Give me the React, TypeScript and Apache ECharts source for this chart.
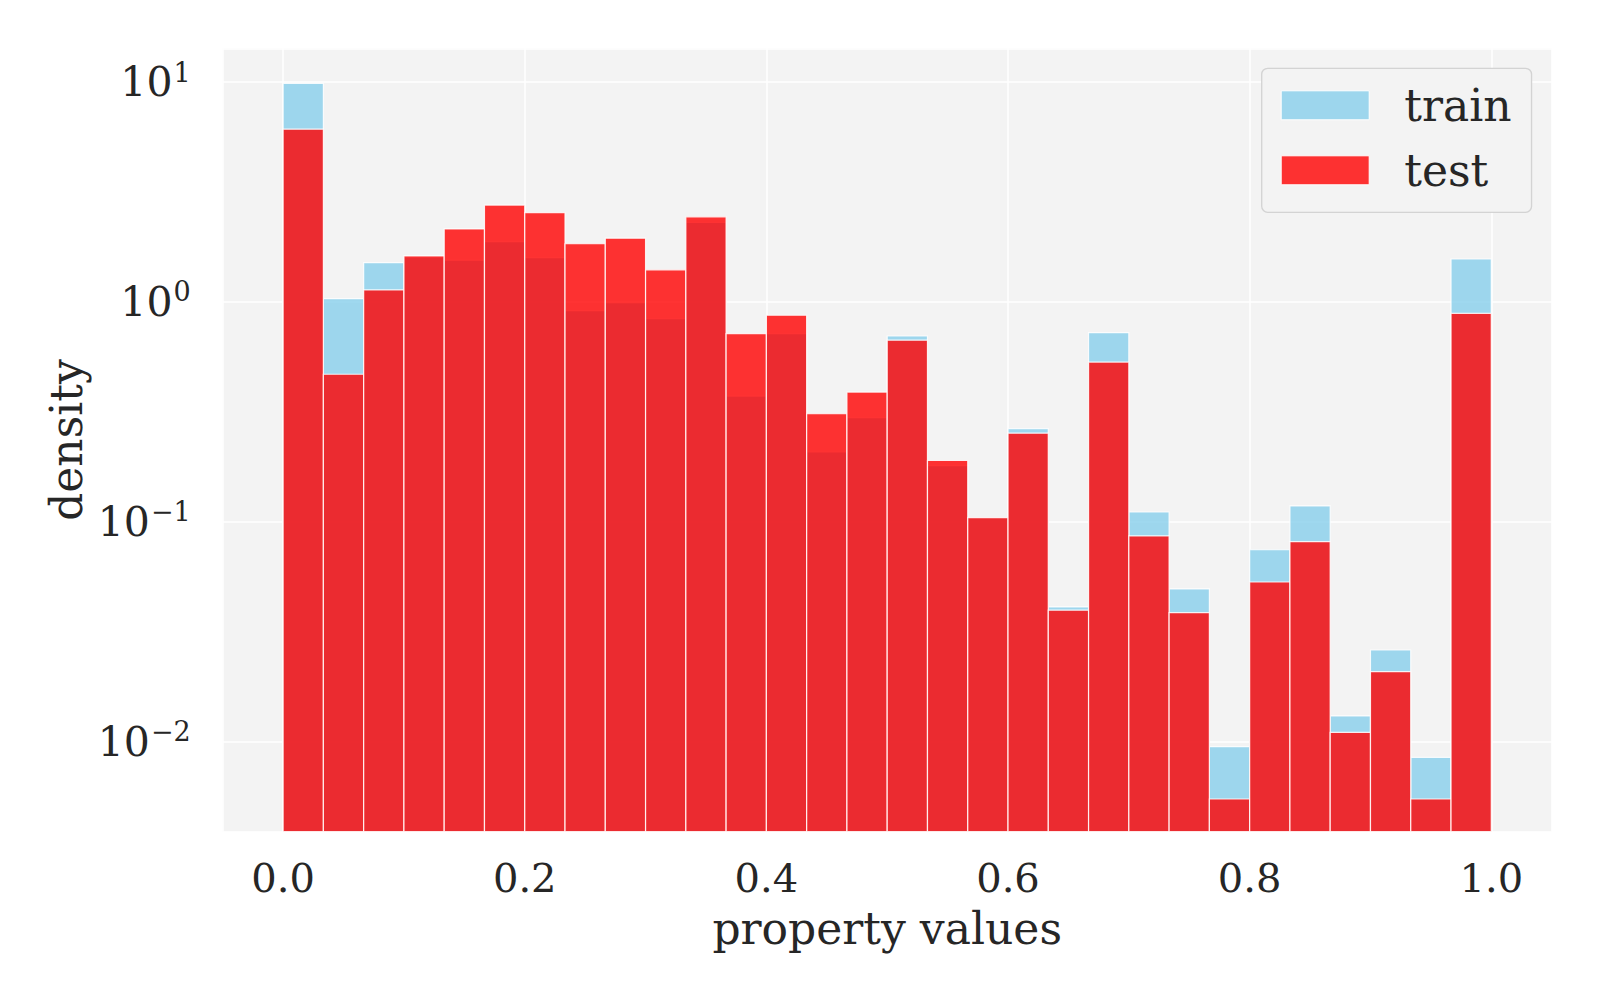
import React, { useEffect, useRef } from "react";
import * as echarts from "echarts";

// Histogram bins: 30 equal-width bins over [0, 1]
const BIN_LOW = 0;
const BIN_HIGH = 1;
const BIN_COUNT = 30;

// Density values (one per bin)
const trainDensity = [
  9.88, 1.035, 1.51, 1.6, 1.55, 1.88, 1.59, 0.913, 0.993, 0.84,
  2.3, 0.373, 0.718, 0.208, 0.298, 0.7, 0.18, 0.1045, 0.2655, 0.041,
  0.725, 0.1108, 0.0495, 0.00948, 0.0746, 0.118, 0.01308, 0.0261, 0.00848, 1.569,
];
const testDensity = [
  6.11, 0.469, 1.134, 1.62, 2.15, 2.76, 2.55, 1.84, 1.95, 1.4,
  2.44, 0.718, 0.87, 0.31, 0.389, 0.67, 0.19, 0.1045, 0.253, 0.0396,
  0.533, 0.0862, 0.0386, 0.00548, 0.0532, 0.0812, 0.01101, 0.0208, 0.00548, 0.888,
];

const seriesNames = ["train", "test"];
const xTickLabels = ["0.0", "0.2", "0.4", "0.6", "0.8", "1.0"];

const X_MIN = -0.05;
const X_MAX = 1.05;
const Y_MIN = 0.00389;
const Y_MAX = 14.26;

const TEXT = "#262626";
const FONT = "'DejaVu Serif', serif";

function toBins(values: number[]) {
  const w = (BIN_HIGH - BIN_LOW) / BIN_COUNT;
  return values.map((v, i) => [BIN_LOW + i * w, BIN_LOW + (i + 1) * w, v]);
}

function makeSeries(name: string, values: number[], color: string) {
  return {
    type: "custom",
    name,
    itemStyle: { color },
    encode: { x: [0, 1], y: 2 },
    data: toBins(values),
    renderItem: (_params: any, api: any) => {
      const x0 = api.value(0);
      const x1 = api.value(1);
      const v = api.value(2);
      const p0 = api.coord([x0, v]);
      const p1 = api.coord([x1, Y_MIN]);
      return {
        type: "rect",
        shape: { x: p0[0], y: p0[1], width: p1[0] - p0[0], height: p1[1] - p0[1] },
        style: { fill: color, stroke: "rgba(255,255,255,0.85)", lineWidth: 1.2 },
      };
    },
  };
}

export default function App() {
  const ref = useRef<HTMLDivElement>(null);
  useEffect(() => {
    document.body.style.margin = "0";
    const chart = echarts.init(ref.current!, undefined, { renderer: "svg" });
    const supMap: Record<string, string> = { "-": "\u2212" };
    chart.setOption({
      animation: false,
      backgroundColor: "#ffffff",
      grid: {
        left: 222.7,
        top: 48.3,
        right: 48.3,
        bottom: 168.3,
        show: true,
        backgroundColor: "#f3f3f3",
        borderWidth: 0,
      },
      xAxis: {
        type: "value",
        min: X_MIN,
        max: X_MAX,
        minInterval: 0.2,
        maxInterval: 0.2,
        axisLine: { show: false },
        axisTick: { show: false },
        splitLine: { show: true, lineStyle: { color: "#ffffff", width: 1.5 } },
        axisLabel: {
          showMinLabel: false,
          showMaxLabel: false,
          margin: 26,
          fontSize: 40,
          fontFamily: FONT,
          color: TEXT,
          formatter: (v: number) => {
            const idx = Math.round(v / 0.2);
            if (Math.abs(v - idx * 0.2) > 1e-6) return "";
            return xTickLabels[idx] ?? "";
          },
        },
      },
      yAxis: {
        type: "log",
        logBase: 10,
        min: Y_MIN,
        max: Y_MAX,
        axisLine: { show: false },
        axisTick: { show: false },
        splitLine: { show: true, lineStyle: { color: "#ffffff", width: 1.5 } },
        axisLabel: {
          showMinLabel: false,
          showMaxLabel: false,
          margin: 32,
          color: TEXT,
          fontFamily: FONT,
          formatter: (v: number) => {
            const l = Math.log10(v);
            const e = Math.round(l);
            if (Math.abs(l - e) > 0.01) return "";
            const s = String(e).split("").map((c) => supMap[c] ?? c).join("");
            return `{b|10}{s|${s}}`;
          },
          rich: {
            b: { fontSize: 41, lineHeight: 41, fontFamily: FONT, color: TEXT, verticalAlign: "bottom" },
            s: {
              fontSize: 27,
              lineHeight: 27,
              fontFamily: FONT,
              color: TEXT,
              verticalAlign: "bottom",
              padding: [0, 0, 17, 1],
            },
          },
        },
      },
      legend: {
        orient: "vertical",
        left: 1261.7,
        top: 68.3,
        data: seriesNames,
        icon: "rect",
        itemWidth: 88,
        itemHeight: 29,
        itemGap: 21,
        padding: [15, 20, 20, 19],
        backgroundColor: "#f3f3f3",
        borderColor: "rgba(204,204,204,0.85)",
        borderWidth: 1.3,
        borderRadius: 6,
        itemStyle: { borderColor: "#ffffff", borderWidth: 1 },
        textStyle: {
          fontSize: 44,
          lineHeight: 44,
          fontFamily: FONT,
          color: TEXT,
          padding: [0, 0, 0, 30],
        },
        selectedMode: false,
      },
      graphic: [
        {
          type: "text",
          x: 887.2,
          y: 928,
          style: {
            text: "property values",
            fontSize: 44,
            fontFamily: FONT,
            fill: TEXT,
            textAlign: "center",
            textVerticalAlign: "middle",
          },
        },
        {
          type: "text",
          x: 66,
          y: 440,
          rotation: Math.PI / 2,
          style: {
            text: "density",
            fontSize: 44,
            fontFamily: FONT,
            fill: TEXT,
            textAlign: "center",
            textVerticalAlign: "middle",
          },
        },
      ],
      series: [
        makeSeries(seriesNames[0], trainDensity, "rgba(135,206,235,0.8)"),
        makeSeries(seriesNames[1], testDensity, "rgba(255,0,0,0.8)"),
      ],
    });
    return () => chart.dispose();
  }, []);
  return <div ref={ref} style={{ width: 1600, height: 1000 }} />;
}
